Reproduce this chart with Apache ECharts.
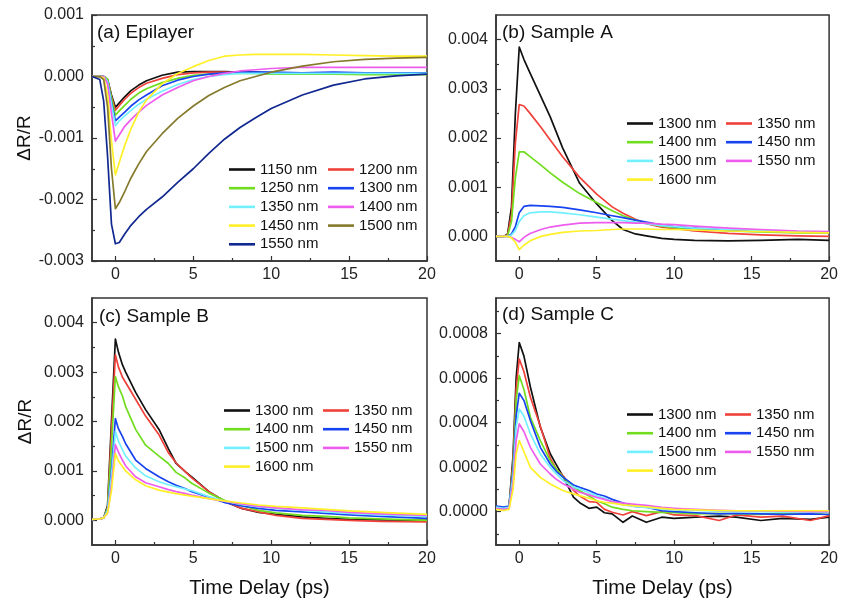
<!DOCTYPE html>
<html><head><meta charset="utf-8">
<script src="https://cdn.jsdelivr.net/npm/echarts@6/dist/echarts.min.js"></script>
<style>html,body{margin:0;padding:0;background:#fff}#c{width:841px;height:603px}</style>
</head><body><div id="c"></div><script>
// ---- data (panel a/b/c values in units of 1e-3, panel d in units of 1e-4) ----
const xTicks = [0, 5, 10, 15, 20];
const xMinor = [2.5, 7.5, 12.5, 17.5];
const yTicksA = [-3, -2, -1, 0, 1];
const yMinorA = [-2.5, -1.5, -0.5, 0.5];
const yTicksBC = [0, 1, 2, 3, 4];
const yMinorBC = [0.5, 1.5, 2.5, 3.5];
const yTicksD = [0, 2, 4, 6, 8];
const yMinorD = [-1, 1, 3, 5, 7, 9];

const wavelengthsA = ['1150 nm','1200 nm','1250 nm','1300 nm','1350 nm','1400 nm','1450 nm','1500 nm','1550 nm'];
const wavelengthsBCD = ['1300 nm','1350 nm','1400 nm','1450 nm','1500 nm','1550 nm','1600 nm'];

const timeA = [-1.5,-1,-0.75,-0.5,-0.25,0,0.25,0.6,1,1.5,2,3,4,5,6,7,8,9,10,12,14,16,18,20];
const a1150 = [0,0,0,-0.05,-0.3,-0.5,-0.43,-0.33,-0.23,-0.14,-0.07,0.02,0.07,0.08,0.08,0.08,0.07,0.07,0.06,0.06,0.05,0.05,0.05,0.05];
const a1200 = [0,0,0,-0.05,-0.33,-0.55,-0.47,-0.37,-0.27,-0.18,-0.11,-0.03,0.03,0.06,0.07,0.07,0.06,0.06,0.05,0.04,0.05,0.04,0.05,0.04];
const a1250 = [0,0,0,-0.04,-0.35,-0.63,-0.56,-0.47,-0.37,-0.27,-0.2,-0.1,-0.03,0.02,0.04,0.05,0.05,0.05,0.04,0.04,0.04,0.03,0.03,0.03];
const a1300 = [0,0,0,-0.08,-0.42,-0.72,-0.66,-0.58,-0.48,-0.38,-0.3,-0.15,-0.06,0.0,0.04,0.06,0.07,0.07,0.07,0.06,0.07,0.06,0.06,0.06];
const a1350 = [0,0,0,-0.08,-0.45,-0.8,-0.72,-0.64,-0.55,-0.45,-0.37,-0.24,-0.13,-0.05,0.0,0.03,0.05,0.05,0.05,0.05,0.05,0.05,0.05,0.05];
const a1400 = [0,0,0,-0.12,-0.6,-1.05,-0.95,-0.81,-0.7,-0.58,-0.47,-0.3,-0.18,-0.07,0.0,0.05,0.09,0.11,0.13,0.15,0.15,0.15,0.15,0.15];
const a1450 = [0,0,-0.02,-0.3,-1.05,-1.6,-1.4,-1.12,-0.85,-0.58,-0.38,-0.12,0.05,0.16,0.26,0.33,0.35,0.36,0.36,0.36,0.35,0.34,0.33,0.33];
const a1500 = [0,0,-0.05,-0.5,-1.5,-2.15,-2.05,-1.87,-1.65,-1.42,-1.22,-0.93,-0.68,-0.48,-0.31,-0.18,-0.07,0.0,0.07,0.17,0.24,0.28,0.3,0.31];
const a1550 = [0,-0.05,-0.4,-1.3,-2.4,-2.72,-2.70,-2.56,-2.42,-2.28,-2.16,-1.96,-1.72,-1.5,-1.25,-1.02,-0.83,-0.67,-0.52,-0.3,-0.14,-0.04,0.01,0.04];

const timeB = [-1.5,-1,-0.75,-0.5,-0.25,0,0.3,0.7,1.4,2,2.8,3.9,5,6,6.7,7.5,8.2,9.2,10,11.3,13.5,15.6,18,20];
const b1300 = [0,0,0.05,0.6,2.5,3.85,3.6,3.32,2.84,2.43,1.8,1.08,0.66,0.32,0.14,0.05,0.01,-0.04,-0.06,-0.08,-0.09,-0.08,-0.06,-0.08];
const b1350 = [0,0,0.03,0.45,1.9,2.68,2.65,2.5,2.22,1.96,1.62,1.2,0.86,0.6,0.47,0.35,0.26,0.19,0.16,0.11,0.06,0.03,0.01,0.0];
const b1400 = [0,0,0.02,0.3,1.2,1.72,1.72,1.62,1.45,1.29,1.1,0.87,0.69,0.52,0.42,0.33,0.27,0.21,0.18,0.15,0.11,0.09,0.07,0.07];
const b1450 = [0,0,0,0.05,0.2,0.48,0.61,0.63,0.62,0.61,0.59,0.54,0.48,0.42,0.38,0.33,0.29,0.23,0.2,0.17,0.13,0.11,0.09,0.08];
const b1500 = [0,0,0,0.03,0.12,0.3,0.42,0.48,0.5,0.5,0.48,0.44,0.39,0.35,0.32,0.29,0.26,0.22,0.2,0.17,0.14,0.12,0.1,0.09];
const b1550 = [0,0,0,-0.02,-0.06,-0.11,-0.02,0.06,0.14,0.19,0.23,0.27,0.28,0.28,0.28,0.27,0.27,0.25,0.24,0.21,0.17,0.14,0.11,0.1];
const b1600 = [0,0,0,-0.03,-0.12,-0.27,-0.18,-0.09,0.0,0.04,0.08,0.11,0.12,0.14,0.15,0.15,0.15,0.14,0.14,0.13,0.11,0.1,0.08,0.07];

const timeC = [-1.5,-1,-0.75,-0.5,-0.25,0,0.2,0.45,0.66,1.3,1.94,2.8,3.4,3.9,4.5,4.9,6,7.1,8.1,9.2,10.3,12,13.5,15,17,20];
const c1300 = [0.02,0.03,0.05,0.3,2.0,3.67,3.4,3.15,3.0,2.59,2.24,1.84,1.45,1.15,0.98,0.88,0.58,0.37,0.24,0.16,0.12,0.07,0.04,0.02,0.01,0.0];
const c1350 = [0.02,0.03,0.05,0.25,1.8,3.35,3.1,2.9,2.79,2.45,2.11,1.73,1.37,1.16,0.98,0.86,0.58,0.37,0.24,0.17,0.1,0.04,0.02,0.0,-0.02,-0.03];
const c1400 = [0.02,0.03,0.05,0.25,1.5,2.91,2.7,2.52,2.3,1.84,1.52,1.3,1.15,0.97,0.85,0.75,0.55,0.39,0.3,0.2,0.15,0.1,0.08,0.05,0.03,0.0];
const c1450 = [0.02,0.03,0.05,0.2,1.0,2.06,1.85,1.7,1.55,1.22,1.05,0.88,0.78,0.71,0.64,0.58,0.47,0.35,0.29,0.24,0.2,0.17,0.14,0.11,0.08,0.04];
const c1500 = [0.02,0.03,0.05,0.2,0.9,1.8,1.6,1.43,1.3,1.06,0.9,0.78,0.72,0.68,0.63,0.6,0.48,0.38,0.32,0.27,0.24,0.2,0.17,0.14,0.11,0.08];
const c1550 = [0.02,0.03,0.05,0.15,0.7,1.53,1.38,1.22,1.1,0.88,0.76,0.68,0.62,0.58,0.54,0.51,0.44,0.38,0.33,0.28,0.25,0.21,0.2,0.16,0.13,0.1];
const c1600 = [0.02,0.03,0.05,0.15,0.6,1.35,1.2,1.09,1.0,0.82,0.7,0.61,0.57,0.54,0.51,0.49,0.44,0.39,0.35,0.31,0.28,0.25,0.22,0.19,0.16,0.12];

const timeD = [-1.5,-1,-0.66,-0.4,-0.2,0,0.3,0.72,1.36,2,2.4,2.85,3.5,3.9,4.5,5,5.5,6,6.7,7.3,8.2,9.2,10,11.4,12.9,14,15.6,17,18.8,20];
const d1300 = [0.15,0.1,0.2,2.5,6.0,7.6,7.0,5.6,3.8,2.6,2.1,1.55,0.65,0.4,0.15,0.2,-0.05,-0.1,-0.48,-0.2,-0.48,-0.25,-0.3,-0.25,-0.2,-0.25,-0.4,-0.3,-0.35,-0.25];
const d1350 = [0.15,0.1,0.2,2.2,5.5,6.86,6.3,5.14,3.85,2.4,1.9,1.6,0.95,0.7,0.45,0.42,0.1,-0.03,-0.15,0.0,-0.18,0.0,-0.15,-0.18,-0.4,-0.15,-0.25,-0.2,-0.4,-0.18];
const d1400 = [0.15,0.1,0.2,2.0,5.0,6.11,5.5,4.24,3.19,2.29,1.9,1.54,1.1,0.94,0.7,0.49,0.35,0.2,0.1,0.04,0.0,-0.03,-0.05,-0.1,-0.08,-0.1,-0.12,-0.08,-0.1,-0.03];
const d1450 = [0.25,0.2,0.25,1.8,4.3,5.32,5.0,4.09,2.89,2.14,1.8,1.54,1.2,1.09,0.95,0.79,0.7,0.55,0.38,0.25,0.2,0.04,0.0,-0.05,-0.1,-0.08,-0.1,-0.12,-0.1,-0.13];
const d1500 = [0.2,0.15,0.2,1.6,3.8,4.61,4.3,3.49,2.59,1.99,1.7,1.39,1.1,1.02,0.85,0.72,0.6,0.45,0.3,0.25,0.18,0.12,0.08,0.05,0.02,0.0,0.0,-0.02,-0.02,-0.03];
const d1550 = [0.15,0.1,0.15,1.3,3.2,3.94,3.6,2.89,2.14,1.69,1.45,1.24,1.0,0.87,0.75,0.64,0.55,0.45,0.38,0.34,0.28,0.19,0.15,0.1,0.06,0.04,0.04,0.02,0.0,0.0];
const d1600 = [0.1,0.05,0.1,1.0,2.6,3.19,2.7,1.99,1.54,1.24,1.1,0.94,0.8,0.72,0.6,0.49,0.42,0.38,0.3,0.27,0.22,0.15,0.1,0.08,0.05,0.04,0.04,0.04,0.04,0.04];

// ---- styling / building ----
const palette = ['#111111','#f0413a','#70dd1e','#1743f0','#72f0ff','#ee5cee','#fff028','#857a2c','#10288f'];
const FONT = '"Liberation Sans", Arial, sans-serif';
const AX = '#333';

const panels = [
  {grid:{left:92, top:15, width:335, height:246}, time:timeA, names:wavelengthsA,
   vals:[a1150,a1200,a1250,a1300,a1350,a1400,a1450,a1500,a1550],
   ymin:-3, ymax:1, yt:yTicksA, ym:yMinorA, scale:1000, dec:3, yname:'ΔR/R', xname:'',
   title:'(a) Epilayer', tpos:[97,23], leg:[[229,162],[328,162]]},
  {grid:{left:496, top:15, width:335, height:246}, time:timeB, names:wavelengthsBCD,
   vals:[b1300,b1350,b1400,b1450,b1500,b1550,b1600],
   ymin:-0.5, ymax:4.5, yt:yTicksBC, ym:yMinorBC, scale:1000, dec:3, yname:'', xname:'',
   title:'(b) Sample A', tpos:[502,23], leg:[[627,116],[726,116]]},
  {grid:{left:92, top:298, width:335, height:247}, time:timeC, names:wavelengthsBCD,
   vals:[c1300,c1350,c1400,c1450,c1500,c1550,c1600],
   ymin:-0.5, ymax:4.5, yt:yTicksBC, ym:yMinorBC, scale:1000, dec:3, yname:'ΔR/R', xname:'Time Delay (ps)',
   title:'(c) Sample B', tpos:[99,307], leg:[[224,403],[323,403]]},
  {grid:{left:496, top:298, width:335, height:247}, time:timeD, names:wavelengthsBCD,
   vals:[d1300,d1350,d1400,d1450,d1500,d1550,d1600],
   ymin:-1.5, ymax:9.6, yt:yTicksD, ym:yMinorD, scale:10000, dec:4, yname:'', xname:'Time Delay (ps)',
   title:'(d) Sample C', tpos:[502,305], leg:[[627,407],[725,407]]}
];

const grid=[], xAxis=[], yAxis=[], series=[], legend=[], title=[];
panels.forEach((p, i) => {
  grid.push(Object.assign({show:true, borderColor:AX, borderWidth:1.5, backgroundColor:'transparent'}, p.grid));
  xAxis.push({type:'value', gridIndex:i, position:'bottom', min:-1.5, max:20,
    name:p.xname, nameLocation:'middle', nameGap:33,
    nameTextStyle:{fontSize:20, fontFamily:FONT, color:'#111'},
    axisLine:{onZero:false, lineStyle:{color:AX, width:1.5}},
    axisTick:{inside:true, length:5, customValues:xTicks, lineStyle:{color:AX, width:1.2}},
    axisLabel:{customValues:xTicks, fontSize:16, fontFamily:FONT, color:'#222', margin:6},
    splitLine:{show:false}});
  xAxis.push({type:'value', gridIndex:i, position:'bottom', min:-1.5, max:20,
    axisLine:{show:false, onZero:false},
    axisTick:{inside:true, length:3, customValues:xMinor, lineStyle:{color:AX, width:1.2}},
    axisLabel:{show:false}, splitLine:{show:false}});
  yAxis.push({type:'value', gridIndex:i, position:'left', min:p.ymin, max:p.ymax,
    name:p.yname, nameLocation:'middle', nameGap:57,
    nameTextStyle:{fontSize:19, fontFamily:FONT, color:'#111'},
    axisLine:{onZero:false, lineStyle:{color:AX, width:1.5}},
    axisTick:{inside:true, length:5, customValues:p.yt, lineStyle:{color:AX, width:1.2}},
    axisLabel:{customValues:p.yt, fontSize:16, fontFamily:FONT, color:'#222', margin:8,
      formatter:(v)=> (v/p.scale).toFixed(p.dec)},
    splitLine:{show:false}});
  yAxis.push({type:'value', gridIndex:i, position:'left', min:p.ymin, max:p.ymax,
    axisLine:{show:false, onZero:false},
    axisTick:{inside:true, length:3, customValues:p.ym, lineStyle:{color:AX, width:1.2}},
    axisLabel:{show:false}, splitLine:{show:false}});
  const key = 'abcd'[i];
  p.names.forEach((n, k) => {
    series.push({type:'line', name:key+'|'+n, xAxisIndex:2*i, yAxisIndex:2*i,
      data:p.time.map((t, j) => [t, p.vals[k][j]]),
      symbol:'none', showSymbol:false, smooth:false, animation:false,
      lineStyle:{color:palette[k], width:1.7, join:'round'}, itemStyle:{color:palette[k]}});
  });
  const col1 = p.names.filter((_, k) => k % 2 === 0).map(n => key+'|'+n);
  const col2 = p.names.filter((_, k) => k % 2 === 1).map(n => key+'|'+n);
  [col1, col2].forEach((d, c) => {
    legend.push({orient:'vertical', left:p.leg[c][0], top:p.leg[c][1], padding:0,
      icon:'rect', itemWidth:26, itemHeight:2.6, itemGap:3.7, selectedMode:false, data:d,
      formatter:(nm)=>nm.split('|')[1],
      textStyle:{fontSize:15, fontFamily:FONT, color:'#111', lineHeight:15}});
  });
  title.push({text:p.title, left:p.tpos[0], top:p.tpos[1], padding:0,
    textStyle:{fontSize:19, fontWeight:'normal', fontFamily:FONT, color:'#111'}});
});

const chart = echarts.init(document.getElementById('c'), null, {renderer:'canvas'});
chart.setOption({backgroundColor:'#fff', animation:false, title, grid, xAxis, yAxis, series, legend});
</script></body></html>
